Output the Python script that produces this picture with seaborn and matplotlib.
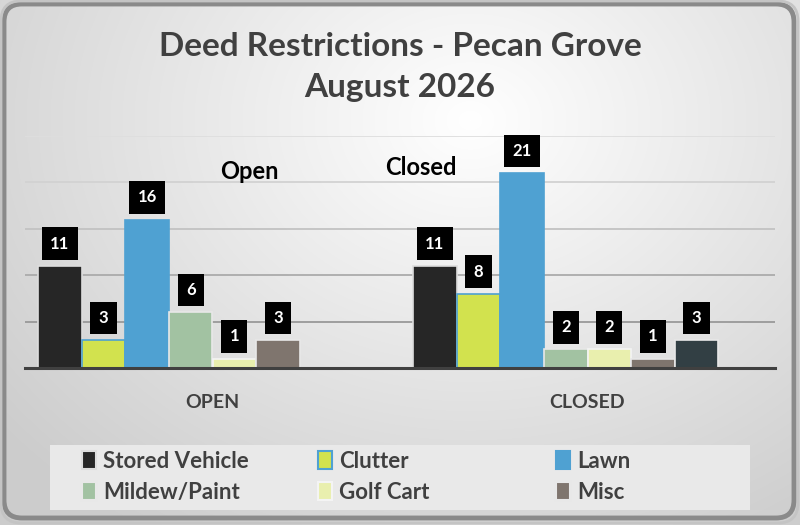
import numpy as np
import pandas as pd
import matplotlib
matplotlib.use("Agg")
import matplotlib.pyplot as plt
from matplotlib.patches import FancyBboxPatch, Rectangle
import seaborn as sns

sns.set_theme(style="white")
plt.rcParams['font.family'] = ['Lato', 'DejaVu Sans']

# data
categories = ["OPEN", "CLOSED"]
series = ["Stored Vehicle", "Clutter", "Lawn", "Mildew/Paint", "Golf Cart", "Misc", "Other", "Spare"]
open_vals = [11, 3, 16, 6, 1, 3, np.nan, np.nan]
closed_vals = [11, 8, 21, 2, 2, 1, 3, np.nan]
legend_cols = [["Stored Vehicle", "Mildew/Paint"], ["Clutter", "Golf Cart"], ["Lawn", "Misc"]]

colors = ["#262626", "#d2e24e", "#4fa1d2", "#a2c2a2", "#e9efae", "#7f756e", "#323f44", "#ffffff"]
edges = ["#dddddd", "#4fa1d2", "#4fa1d2", "#e8e8e8", "#f4f4f4", "#e8e8e8", "#e8e8e8", "#ffffff"]

rows = []
for s, o, c in zip(series, open_vals, closed_vals):
    rows.append({"cat": "OPEN", "series": s, "value": o})
    rows.append({"cat": "CLOSED", "series": s, "value": c})
df = pd.DataFrame(rows)

fig = plt.figure(figsize=(8, 5.25), dpi=100)

# background gradient + rounded frame
bg = fig.add_axes([0, 0, 1, 1], zorder=-10)
yy, xx = np.mgrid[0:525, 0:800]
d = np.sqrt(((xx - 470) / 520.0) ** 2 + ((yy - 120) / 420.0) ** 2)
shade = np.clip(1.0 - 0.17 * d, 0.8, 1.0)
img = np.dstack([shade, shade, shade])
bg.imshow(img, extent=[0, 800, 525, 0], aspect="auto")
bg.set_xlim(0, 800)
bg.set_ylim(525, 0)
bg.axis("off")
frame = FancyBboxPatch((4, 4), 790, 514, boxstyle="round,pad=0,rounding_size=18",
                       fill=False, edgecolor="#8a8a8a", linewidth=3.5)
bg.add_patch(frame)
outer = FancyBboxPatch((1, 1), 797, 522, boxstyle="round,pad=0,rounding_size=20",
                       fill=False, edgecolor="#c4c4c4", linewidth=2)
bg.add_patch(outer)
# legend panel
bg.add_patch(Rectangle((50, 445), 700, 65, facecolor="#e9e9e9", edgecolor="none"))

ax = fig.add_axes([25 / 800, 1 - 368 / 525, 750 / 800, 232 / 525])
ax.patch.set_alpha(0)

sns.barplot(data=df, x="cat", y="value", hue="series", order=categories, hue_order=series,
            palette=colors, width=0.93, ax=ax, legend=False, saturation=1, linewidth=1.2)

for cont, ec in zip(ax.containers, edges):
    for bar in cont:
        bar.set_edgecolor(ec)
    vals = cont.datavalues
    for bar, v in zip(cont, vals):
        if np.isnan(v):
            continue
        ax.annotate(f"{int(v)}", (bar.get_x() + bar.get_width() / 2, bar.get_height()),
                    xytext=(0, 16), textcoords="offset points", ha="center", va="center",
                    color="white", fontsize=12, fontweight="bold",
                    bbox=dict(boxstyle="square,pad=0.5", facecolor="black", edgecolor="none"))

ax.set_ylim(0, 25)
ax.set_xlim(-0.5, 1.5)
ax.set_yticks([5, 10, 15, 20, 25])
ax.set_yticklabels([])
ax.tick_params(axis="y", length=0)
ax.grid(axis="y")
grid_cols = ["#999999", "#ababab", "#c2c2c2", "#d2d2d2", "#dedede"]
for gl, gc in zip(ax.get_ygridlines(), grid_cols):
    gl.set_color(gc)
    gl.set_linewidth(1.3)
for side in ["top", "right", "left"]:
    ax.spines[side].set_visible(False)
ax.spines["bottom"].set_color("#404040")
ax.spines["bottom"].set_linewidth(2.2)
ax.set_xlabel("")
ax.set_ylabel("")
ax.tick_params(axis="x", length=0, pad=19, labelsize=14, labelcolor="#404040")
for t in ax.get_xticklabels():
    t.set_fontweight("bold")

ax.text(0.02, 21.2, "Open", fontsize=17, fontweight="bold", color="black", ha="left", va="center")
ax.text(0.46, 21.6, "Closed", fontsize=17, fontweight="bold", color="black", ha="left", va="center")

fig.text(0.5, 1 - 67 / 525, "Deed Restrictions - Pecan Grove\nAugust 2026", ha="center", va="center",
         fontsize=24, fontweight="bold", color="#404040", linespacing=1.5)

color_of = dict(zip(series, colors))
edge_of = dict(zip(series, edges))
col_x = [82, 318, 556]
for names, x0 in zip(legend_cols, col_x):
    handles = [Rectangle((0, 0), 1, 1, facecolor=color_of[n], edgecolor=edge_of[n], linewidth=1.5)
               for n in names]
    leg = fig.legend(handles, names, loc="center left", bbox_to_anchor=(x0 / 800, 1 - 477 / 525),
                     frameon=False, fontsize=16, handlelength=0.65, handleheight=0.85,
                     handletextpad=0.3, labelspacing=0.45, borderpad=0, borderaxespad=0)
    for t in leg.get_texts():
        t.set_color("#404040")
        t.set_fontweight("bold")

fig.savefig("out.png", dpi=100)
